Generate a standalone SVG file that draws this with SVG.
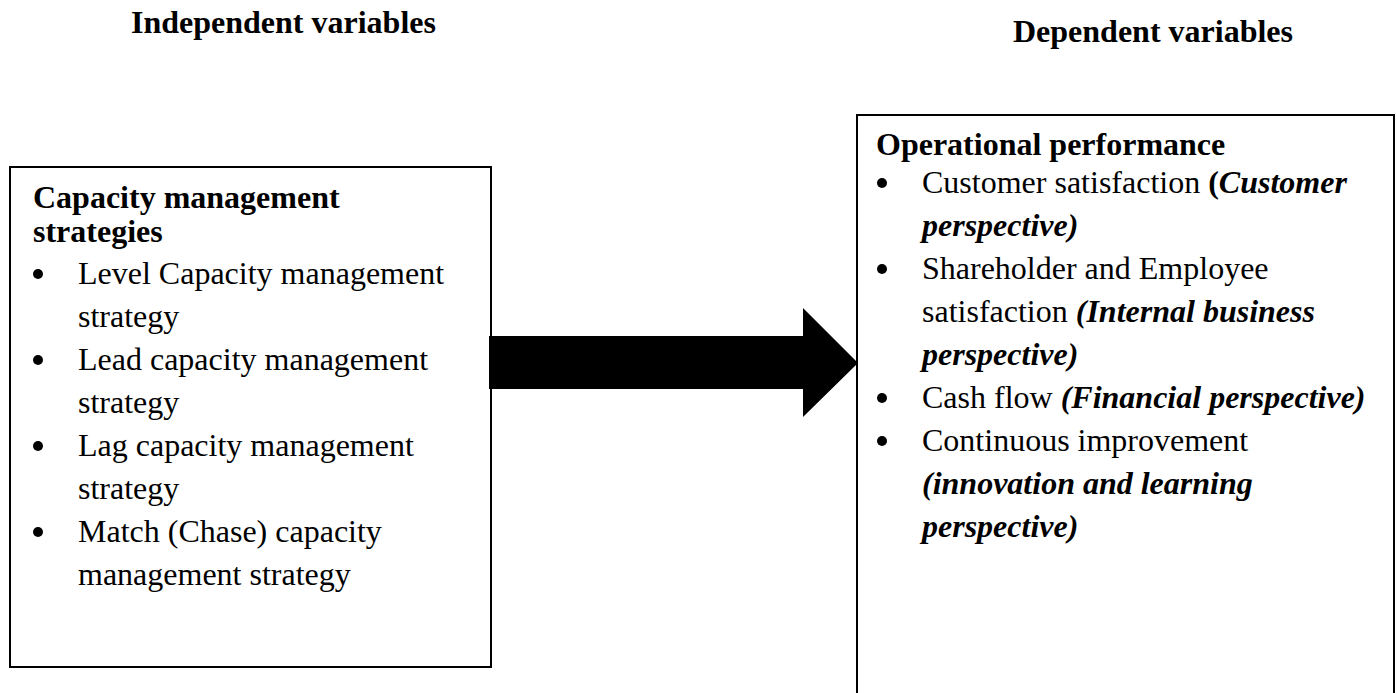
<svg xmlns="http://www.w3.org/2000/svg" width="1397" height="693" viewBox="0 0 1397 693">
<style>
text{font-family:"Liberation Serif","Times New Roman",serif;font-size:32px;fill:#000}
.b{font-weight:bold}
.bi{font-weight:bold;font-style:italic}
.dot{fill:#000}
.box{fill:#fff;stroke:#000;stroke-width:2}
</style>
<defs>
<circle id="bullet" class="dot" r="5" cx="0" cy="0"/>
</defs>
<rect width="1397" height="693" fill="#fff"/>
<g id="headings">
<text class="b" x="131" y="33">Independent variables</text>
<text class="b" x="1013" y="42">Dependent variables</text>
</g>
<g id="node-capacity">
<rect class="box" x="10" y="167" width="481" height="500"/>
<text class="b" x="33" y="208">Capacity management</text>
<text class="b" x="33" y="242">strategies</text>
<use href="#bullet" x="38" y="274"/>
<text x="78" y="284">Level Capacity management</text>
<text x="78" y="327">strategy</text>
<use href="#bullet" x="38" y="360"/>
<text x="78" y="370">Lead capacity management</text>
<text x="78" y="413">strategy</text>
<use href="#bullet" x="38" y="446"/>
<text x="78" y="456">Lag capacity management</text>
<text x="78" y="499">strategy</text>
<use href="#bullet" x="38" y="532"/>
<text x="78" y="542">Match (Chase) capacity</text>
<text x="78" y="585">management strategy</text>
</g>
<g id="node-performance">
<rect class="box" x="857" y="115" width="537" height="600"/>
<text class="b" x="876" y="155">Operational performance</text>
<use href="#bullet" x="882" y="183"/>
<text x="922" y="193">Customer satisfaction <tspan class="b">(</tspan><tspan class="bi">Customer</tspan></text>
<text class="bi" x="922" y="236">perspective)</text>
<use href="#bullet" x="882" y="269"/>
<text x="922" y="279">Shareholder and Employee</text>
<text x="922" y="322">satisfaction <tspan class="bi">(Internal business</tspan></text>
<text class="bi" x="922" y="365">perspective)</text>
<use href="#bullet" x="882" y="398"/>
<text x="922" y="408">Cash flow <tspan class="bi">(Financial perspective)</tspan></text>
<use href="#bullet" x="882" y="441"/>
<text x="922" y="451">Continuous improvement</text>
<text class="bi" x="922" y="494">(innovation and learning</text>
<text class="bi" x="922" y="537">perspective)</text>
</g>
<g id="connectors">
<polygon points="489,336 803,336 803,308 858,363 803,417 803,389 489,389" fill="#000"/>
</g>
</svg>
